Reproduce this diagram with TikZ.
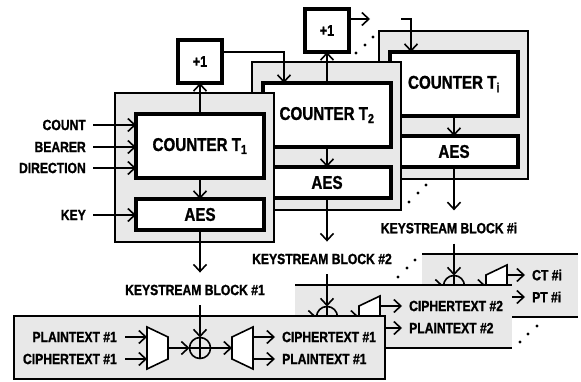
\documentclass[tikz,border=0pt]{standalone}
\usepackage{fontspec}
\setmainfont{Liberation Sans}[FakeStretch=0.82, BoldFeatures={FakeBold=1.2}]
\usetikzlibrary{arrows.meta}
\begin{document}
\begin{tikzpicture}[x=1pt,y=-1pt,
  every node/.style={font=\bfseries},
  lbl/.style={font=\bfseries\fontsize{14.8}{16}\selectfont, inner sep=0pt},
  ln/.style={line width=1.6pt},
  arr/.style={line width=1.6pt, -{Straight Barb[length=7pt,width=13pt]}},
  heavy/.style={draw, line width=3.2pt, fill=white, inner sep=0pt, outer sep=0pt, anchor=north west, font=\bfseries\fontsize{18.5}{20}\selectfont},
  plusbox/.style={heavy, minimum width=44pt, minimum height=43pt, font=\bfseries\fontsize{15.5}{17}\selectfont},
  cntbox/.style={heavy, minimum width=128pt, minimum height=64pt},
  aesbox/.style={heavy, minimum width=128pt, minimum height=31pt},
  grayblk/.style={draw, line width=1.8pt, fill=black!9, inner sep=0pt, outer sep=0pt, anchor=north west},
  xor/.style={circle, draw, line width=1.6pt, minimum size=21pt, inner sep=0pt, outer sep=0pt},
  panelfill/.style={fill=black!9},
  dot/.style={fill=black},
  ]
\useasboundingbox (0,0) rectangle (581,382);

% ================= block i (back) =================
\begin{scope}[shift={(254,-62)}]
\node[grayblk, minimum width=149pt, minimum height=148pt] (gi) at (125,93) {};
\node[cntbox] (ci) at (136,114) {COUNTER T\textsubscript{i}};
\node[aesbox] (ai) at (136,198) {AES};
\draw[arr] (ci.south) -- (ai.north);
\end{scope}

% ================= block 2 =================
\begin{scope}[shift={(127,-31)}]
\node[grayblk, minimum width=149pt, minimum height=148pt] (g2) at (125,93) {};
\node[cntbox] (c2) at (136,114) {COUNTER T\textsubscript{2}};
\node[aesbox] (a2) at (136,198) {AES};
\node[plusbox] (p2) at (178,40) {+1};
\draw[arr] (c2.south) -- (a2.north);
\draw[arr] (c2.north) -- (p2.south);
\end{scope}

% ================= block 1 (front) =================
\node[grayblk, minimum width=159pt, minimum height=149pt] (g1) at (115,93) {};
\node[cntbox] (c1) at (136,114) {COUNTER T\textsubscript{1}};
\node[aesbox] (a1) at (136,199) {AES};
\node[plusbox] (p1) at (178,40) {+1};
\draw[arr] (c1.south) -- (a1.north);
\draw[arr] (c1.north) -- (p1.south);

\node[lbl, anchor=east] (lcnt) at (86,125) {COUNT};
\node[lbl, anchor=east] (lbear) at (86,147) {BEARER};
\node[lbl, anchor=east] (ldir) at (86,168) {DIRECTION};
\node[lbl, anchor=east] (lkey) at (86,215) {KEY};
\foreach \n in {lcnt,lbear,ldir}
  \draw[arr] ([xshift=7pt]\n.east) -- (c1.west |- \n.east);
\draw[arr] ([xshift=7pt]lkey.east) -- (a1.west |- lkey.east);

% +1 chaining
\draw[arr] ([yshift=-12pt]p1.north east) -| ([xshift=21pt]c2.north west);
\coordinate (pe) at (370,19);
\draw[arr] (p2.east |- pe) -- (pe);
\coordinate (ps) at (401,19);
\draw[arr] (ps) -| ([xshift=21pt]ci.north west);

% keystream labels
\node[lbl] (ks1) at (195,290) {KEYSTREAM BLOCK \#1};
\node[lbl] (ks2) at (322,259) {KEYSTREAM BLOCK \#2};
\node[lbl] (ksi) at (449,228) {KEYSTREAM BLOCK \#i};
\draw[arr, shorten >=12pt] (a1.south) -- (a1.south |- ks1.north);
\draw[arr, shorten >=12pt] (a2.south) -- (a2.south |- ks2.north);
\draw[arr, shorten >=12pt] (ai.south) -- (ai.south |- ksi.north);

% ================= panel i =================
\begin{scope}[shift={(254,-62)}]
\fill[panelfill] (168,316) rectangle (324,379);
\draw[ln] (168,316) -- (324,316) (168,379) -- (324,379);
\node[xor] (xi) at (200,348) {};
\draw[ln] (xi.north) -- (xi.south) (xi.west) -- (xi.east);
\coordinate (mi) at (168,348);
\draw[arr] (mi) -- (xi.west);
\draw[arr] (ksi.south -| xi.north) ++(0,10) -- (xi.north);
\draw[ln, fill=white] (232,337) -- (253,327) -- (253,369) -- (232,359) -- cycle;
\coordinate (di) at (232,348);
\draw[arr] (xi.east) -- (di);
\coordinate (dio1) at (253,337);
\coordinate (dio2) at (253,359);
\node[lbl, anchor=west] (oi1) at (278,337) {CT \#i};
\node[lbl, anchor=west] (oi2) at (278,359) {PT \#i};
\draw[arr] (dio1) -- ([xshift=-7pt]oi1.west);
\draw[arr] (dio2) -- ([xshift=-7pt]oi2.west);
\end{scope}

% ================= panel 2 =================
\begin{scope}[shift={(127,-31)}]
\fill[panelfill] (168,316) rectangle (385,379);
\draw[ln] (168,316) -- (385,316) (168,379) -- (385,379);
\node[xor] (x2) at (200,348) {};
\draw[ln] (x2.north) -- (x2.south) (x2.west) -- (x2.east);
\coordinate (m2) at (168,348);
\draw[arr] (m2) -- (x2.west);
\draw[arr] (ks2.south -| x2.north) ++(0,10) -- (x2.north);
\draw[ln, fill=white] (232,337) -- (253,327) -- (253,369) -- (232,359) -- cycle;
\coordinate (d2) at (232,348);
\draw[arr] (x2.east) -- (d2);
\coordinate (d2o1) at (253,337);
\coordinate (d2o2) at (253,359);
\node[lbl, anchor=west] (o21) at (282,337) {CIPHERTEXT \#2};
\node[lbl, anchor=west] (o22) at (282,359) {PLAINTEXT \#2};
\draw[arr] (d2o1) -- ([xshift=-7pt]o21.west);
\draw[arr] (d2o2) -- ([xshift=-7pt]o22.west);
\end{scope}

% ================= panel 1 =================
\draw[line width=2pt, panelfill] (14,316) rectangle (385,379);
\node[xor] (x1) at (200,348) {};
\draw[ln] (x1.north) -- (x1.south) (x1.west) -- (x1.east);
\draw[arr] (ks1.south -| x1.north) ++(0,10) -- (x1.north);
\node[lbl, anchor=east] (i11) at (117,337) {PLAINTEXT \#1};
\node[lbl, anchor=east] (i12) at (117,359) {CIPHERTEXT \#1};
\draw[ln, fill=white] (147,327) -- (168,337) -- (168,359) -- (147,369) -- cycle;
\coordinate (mi1) at (147,337);
\coordinate (mi2) at (147,359);
\draw[arr] ([xshift=8pt]i11.east) -- (mi1);
\draw[arr] ([xshift=8pt]i12.east) -- (mi2);
\coordinate (m1) at (168,348);
\draw[arr] (m1) -- (x1.west);
\draw[ln, fill=white] (232,337) -- (253,327) -- (253,369) -- (232,359) -- cycle;
\coordinate (d1) at (232,348);
\draw[arr] (x1.east) -- (d1);
\coordinate (d1o1) at (253,337);
\coordinate (d1o2) at (253,359);
\node[lbl, anchor=west] (o11) at (282,337) {CIPHERTEXT \#1};
\node[lbl, anchor=west] (o12) at (282,359) {PLAINTEXT \#1};
\draw[arr] (d1o1) -- ([xshift=-7pt]o11.west);
\draw[arr] (d1o2) -- ([xshift=-7pt]o12.west);

% ================= ellipsis dots =================
\foreach \p in {(356,53),(365,45),(373,37),
                (409,202),(418,193),(426,185),
                (398,277),(407,268),(415,260),
                (520,342),(528,334),(537,326)}
  \fill[dot] \p circle (1.7pt);
\end{tikzpicture}
\end{document}
